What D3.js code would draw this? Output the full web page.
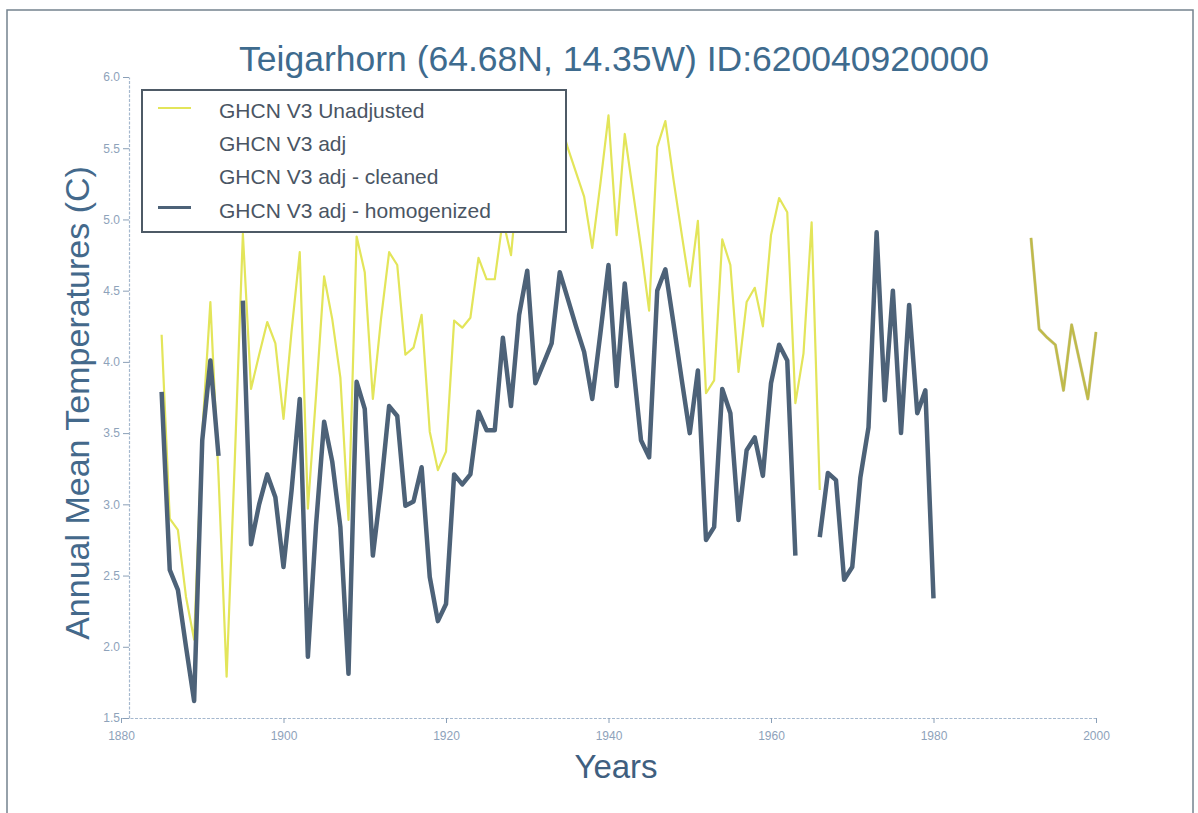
<!DOCTYPE html>
<html>
<head>
<meta charset="utf-8">
<script src="https://cdn.jsdelivr.net/npm/d3@7"></script>
<style>
  body { margin: 0; background: #fff; }
  text { font-family: "Liberation Sans", Arial, sans-serif; }
</style>
</head>
<body>
<script>
const W = 1198, H = 813;

// annual means, one value per year starting at startYear (null = missing)
const unadjStart = 1885;
const unadjusted = [
  4.19, 2.90, 2.82, 2.35, 2.05, 3.50, 4.42, 3.20, 1.79, 3.30,   // 1885-1894
  4.90, 3.81, 4.05, 4.28, 4.13, 3.60, 4.22, 4.77, 2.97, 3.76,   // 1895-1904
  4.60, 4.30, 3.89, 2.89, 4.88, 4.63, 3.74, 4.30, 4.77, 4.68,   // 1905-1914
  4.05, 4.10, 4.33, 3.51, 3.24, 3.37, 4.29, 4.24, 4.31, 4.73,   // 1915-1924
  4.58, 4.58, 5.00, 4.75, 5.35, 5.65, 5.00, 5.10, 5.25, 5.70,   // 1925-1934
  5.50, 5.33, 5.16, 4.80, 5.25, 5.73, 4.89, 5.60, 5.20, 4.80,   // 1935-1944
  4.36, 5.51, 5.69, 5.28, 4.90, 4.53, 4.99, 3.78, 3.87, 4.86,   // 1945-1954
  4.68, 3.93, 4.42, 4.52, 4.25, 4.89, 5.15, 5.05, 3.71, 4.06,   // 1955-1964
  4.98, 3.10, null, null, null, null, null, null, null, null,   // 1965-1974
  null, null, null, null, null, null, null, null, null, null,   // 1975-1984
  null, null, null, null, null, null, null, 4.87, 4.23, 4.17,   // 1985-1994
  4.12, 3.80, 4.26, 4.00, 3.74, 4.21                            // 1995-2000
];

const adjStart = 1992;
const adjusted = [4.87, 4.23, 4.17, 4.12, 3.80, 4.26, 4.00, 3.74, 4.21];

const homogStart = 1885;
const homogenized = [
  3.79, 2.54, 2.40, 2.00, 1.62, 3.45, 4.01, 3.34, null, null,   // 1885-1894
  4.43, 2.72, 3.00, 3.21, 3.05, 2.56, 3.10, 3.74, 1.93, 2.85,   // 1895-1904
  3.58, 3.30, 2.84, 1.81, 3.86, 3.67, 2.64, 3.12, 3.69, 3.62,   // 1905-1914
  2.99, 3.02, 3.26, 2.49, 2.18, 2.30, 3.21, 3.14, 3.21, 3.65,   // 1915-1924
  3.52, 3.52, 4.17, 3.69, 4.33, 4.64, 3.85, 3.99, 4.13, 4.63,   // 1925-1934
  4.44, 4.25, 4.07, 3.74, 4.20, 4.68, 3.83, 4.55, 4.00, 3.45,   // 1935-1944
  3.33, 4.50, 4.65, 4.27, 3.88, 3.50, 3.94, 2.75, 2.84, 3.81,   // 1945-1954
  3.64, 2.89, 3.38, 3.47, 3.20, 3.85, 4.12, 4.01, 2.64, null,   // 1955-1964
  null, 2.77, 3.22, 3.17, 2.47, 2.56, 3.19, 3.54, 4.91, 3.73,   // 1965-1974
  4.50, 3.50, 4.40, 3.64, 3.80, 2.34                            // 1975-1980
];

const legendLabels = ['GHCN V3 Unadjusted', 'GHCN V3 adj', 'GHCN V3 adj - cleaned', 'GHCN V3 adj - homogenized'];
const legendColors = ['#e3e55a', '#ffffff', '#ffffff', '#4d6278'];
const xTicks = [1880, 1900, 1920, 1940, 1960, 1980, 2000];
const yTicks = [1.5, 2.0, 2.5, 3.0, 3.5, 4.0, 4.5, 5.0, 5.5, 6.0];

const svg = d3.select('body').append('svg').attr('width', W).attr('height', H);

// outer frame of the figure
svg.append('rect')
  .attr('x', 7).attr('y', 10).attr('width', 1186).attr('height', 820)
  .attr('fill', 'none').attr('stroke', '#74838f').attr('stroke-width', 1.5);

const x = d3.scaleLinear().domain([1880, 2000]).range([121, 1096]);
const y = d3.scaleLinear().domain([1.5, 6.0]).range([718, 77]);

const toPts = (vals, start) => vals.map((v, i) => ({ year: start + i, v: v }));
const line = d3.line()
  .defined(d => d.v != null)
  .x(d => x(d.year))
  .y(d => y(d.v));

// axes
const gx = svg.append('g')
  .attr('transform', 'translate(0,718)')
  .call(d3.axisBottom(x).tickValues(xTicks).tickFormat(d3.format('d')).tickSize(5).tickSizeOuter(0));
const gy = svg.append('g')
  .attr('transform', 'translate(129,0)')
  .call(d3.axisLeft(y).tickValues(yTicks).tickFormat(d3.format('.1f')).tickSize(6).tickSizeOuter(0));

[gx, gy].forEach(g => {
  g.select('.domain').attr('stroke', '#a5b8ce').attr('stroke-width', 1.2).attr('stroke-dasharray', '3,1.5');
  g.selectAll('.tick line').attr('stroke', '#8a9fb7');
  g.selectAll('.tick text').attr('fill', '#8ea2ba').attr('font-size', 12);
});
gx.selectAll('.tick text').attr('dy', '1.2em');

// series
svg.append('path')
  .datum(toPts(unadjusted, unadjStart))
  .attr('d', line)
  .attr('fill', 'none').attr('stroke', '#e3e55a').attr('stroke-width', 2.2)
  .attr('stroke-linejoin', 'round');

svg.append('path')
  .datum(toPts(adjusted, adjStart))
  .attr('d', line)
  .attr('fill', 'none').attr('stroke', '#9c8f38').attr('stroke-opacity', 0.5).attr('stroke-width', 3)
  .attr('stroke-linejoin', 'round');

svg.append('path')
  .datum(toPts(homogenized, homogStart))
  .attr('d', line)
  .attr('fill', 'none').attr('stroke', '#4d6278').attr('stroke-width', 4.5)
  .attr('stroke-linejoin', 'round');

// legend
const lg = svg.append('g');
lg.append('rect')
  .attr('x', 142).attr('y', 90).attr('width', 424).attr('height', 142)
  .attr('fill', '#fff').attr('stroke', '#4e5a66').attr('stroke-width', 2);
const rows = lg.selectAll('g.row').data(legendLabels).enter().append('g')
  .attr('transform', (d, i) => `translate(0,${118 + i * 33.2})`);
rows.append('line')
  .attr('x1', 158).attr('x2', 191).attr('y1', -10).attr('y2', -10)
  .attr('stroke', (d, i) => legendColors[i])
  .attr('stroke-width', (d, i) => i === 3 ? 3 : 2);
rows.append('text')
  .attr('x', 219).attr('y', 0)
  .attr('fill', '#4a5563').attr('font-size', 21)
  .text(d => d);

// titles
svg.append('text')
  .attr('x', 614).attr('y', 71)
  .attr('text-anchor', 'middle')
  .attr('fill', '#3e6b8e').attr('font-size', 35.5)
  .text('Teigarhorn (64.68N, 14.35W) ID:620040920000');

svg.append('text')
  .attr('transform', 'translate(89,403) rotate(-90)')
  .attr('text-anchor', 'middle')
  .attr('fill', '#44698b').attr('font-size', 34)
  .text('Annual Mean Temperatures (C)');

svg.append('text')
  .attr('x', 616).attr('y', 778)
  .attr('text-anchor', 'middle')
  .attr('fill', '#3f5f7f').attr('font-size', 33)
  .text('Years');
</script>
</body>
</html>
